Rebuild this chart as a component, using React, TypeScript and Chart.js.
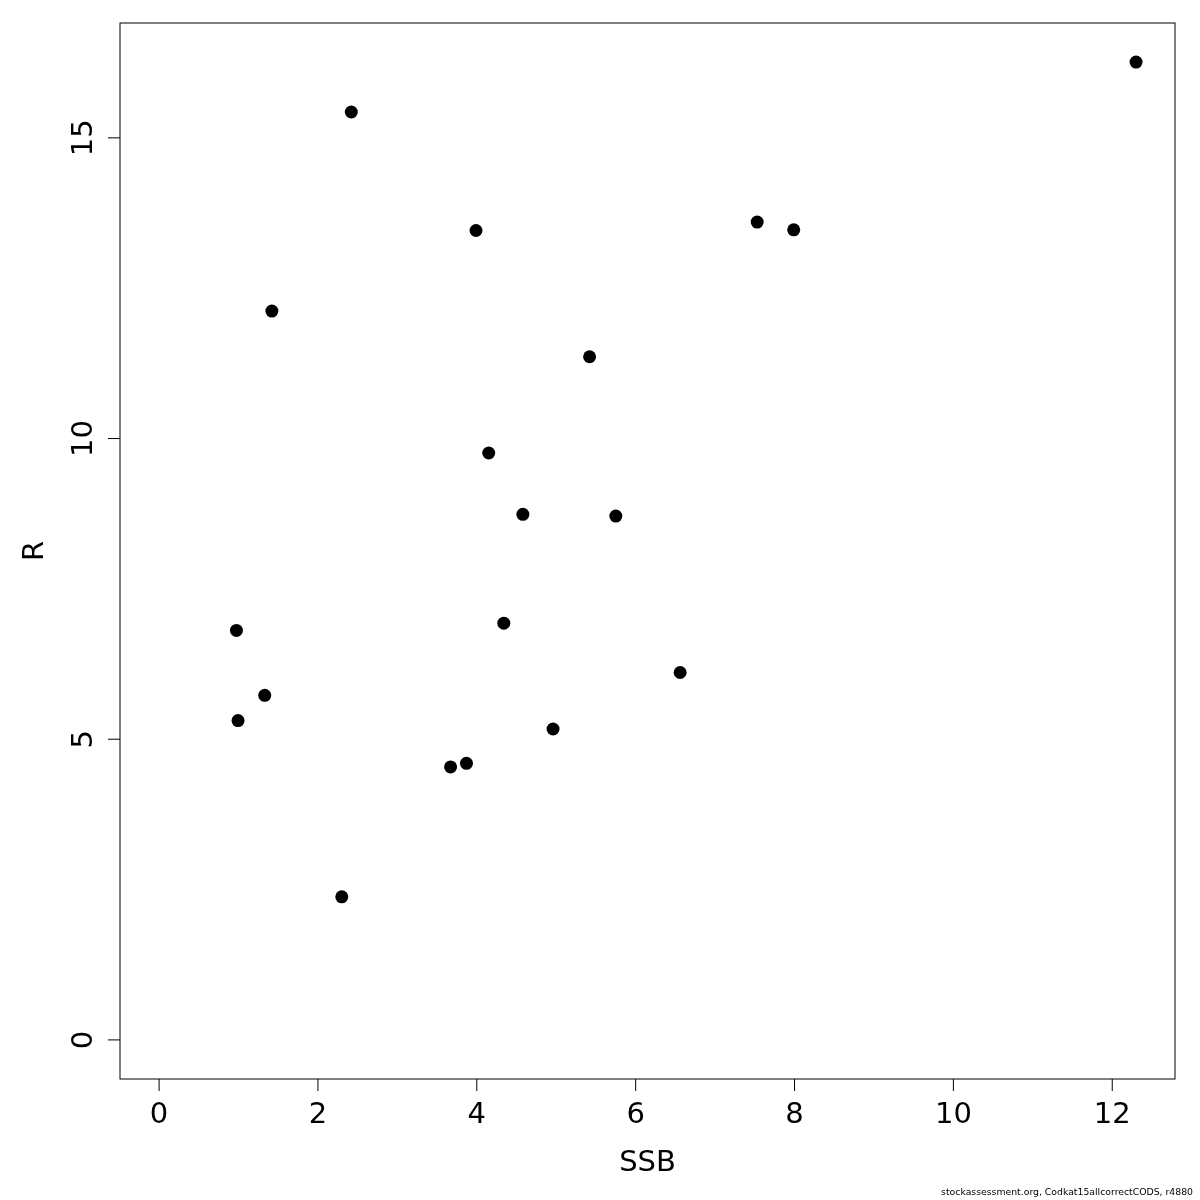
import React, { useEffect, useRef } from 'react';
import { Chart, registerables } from 'chart.js';

Chart.register(...registerables);

// Spawning stock biomass (x) and recruitment (y)
const ssb = [12.3, 2.42, 7.53, 7.99, 3.99, 1.42, 5.42, 4.15, 4.58, 5.75, 0.974, 4.34, 6.56, 1.33, 0.994, 4.96, 3.87, 3.67, 2.3];
const recruits = [16.26, 15.43, 13.6, 13.47, 13.46, 12.12, 11.36, 9.76, 8.74, 8.71, 6.81, 6.93, 6.11, 5.73, 5.31, 5.17, 4.6, 4.54, 2.38];

const xTicks = [0, 2, 4, 6, 8, 10, 12];
const yTicks = [0, 5, 10, 15];
const xTitle = 'SSB';
const yTitle = 'R';
const footerText = 'stockassessment.org, Codkat15allcorrectCODS, r4880';

const FONT = '"DejaVu Sans", sans-serif';

const rAxesPlugin = {
  id: 'rAxes',
  afterDraw(chart: any) {
    const { ctx, chartArea: a, scales } = chart;
    const x = scales.x;
    const y = scales.y;
    ctx.save();
    ctx.strokeStyle = '#000';
    ctx.lineWidth = 1;
    ctx.strokeRect(a.left, a.top, a.right - a.left, a.bottom - a.top);

    ctx.beginPath();
    xTicks.forEach((v) => {
      const px = x.getPixelForValue(v);
      ctx.moveTo(px, a.bottom);
      ctx.lineTo(px, a.bottom + 12);
    });
    yTicks.forEach((v) => {
      const py = y.getPixelForValue(v);
      ctx.moveTo(a.left, py);
      ctx.lineTo(a.left - 12, py);
    });
    ctx.stroke();

    ctx.fillStyle = '#000';
    ctx.font = `29px ${FONT}`;
    ctx.textAlign = 'center';
    ctx.textBaseline = 'alphabetic';
    xTicks.forEach((v) => {
      ctx.fillText(String(v), x.getPixelForValue(v), a.bottom + 44);
    });
    yTicks.forEach((v) => {
      ctx.save();
      ctx.translate(a.left - 28, y.getPixelForValue(v));
      ctx.rotate(-Math.PI / 2);
      ctx.fillText(String(v), 0, 0);
      ctx.restore();
    });

    ctx.fillText(xTitle, (a.left + a.right) / 2, a.bottom + 92);
    ctx.save();
    ctx.translate(a.left - 77, (a.top + a.bottom) / 2);
    ctx.rotate(-Math.PI / 2);
    ctx.fillText(yTitle, 0, 0);
    ctx.restore();

    // footer, fitted to the reference width
    ctx.font = `10px ${FONT}`;
    const w = ctx.measureText(footerText).width;
    const size = (10 * 252) / w;
    ctx.font = `${size.toFixed(2)}px ${FONT}`;
    ctx.textAlign = 'right';
    ctx.fillText(footerText, 1193, 1195);
    ctx.restore();
  },
};

export default function App() {
  const ref = useRef<HTMLCanvasElement | null>(null);

  useEffect(() => {
    if (!ref.current) return;
    const chart = new Chart(ref.current, {
      type: 'scatter',
      data: {
        datasets: [
          {
            data: ssb.map((v, i) => ({ x: v, y: recruits[i] })),
            backgroundColor: '#000',
            borderColor: '#000',
            borderWidth: 0,
            pointRadius: 6.5,
            pointHoverRadius: 6.5,
          },
        ],
      },
      options: {
        responsive: false,
        animation: false,
        events: [],
        layout: { padding: { left: 120, top: 23, right: 25, bottom: 121 } },
        plugins: { legend: { display: false }, tooltip: { enabled: false } },
        scales: {
          x: { type: 'linear', min: -0.492, max: 12.79, display: false },
          y: { type: 'linear', min: -0.65, max: 16.91, display: false },
        },
      },
      plugins: [rAxesPlugin],
    });
    return () => chart.destroy();
  }, []);

  return (
    <div style={{ position: 'absolute', left: 0, top: 0, width: 1200, height: 1200, background: '#fff' }}>
      <canvas ref={ref} width={1200} height={1200} style={{ width: 1200, height: 1200, display: 'block' }} />
    </div>
  );
}
